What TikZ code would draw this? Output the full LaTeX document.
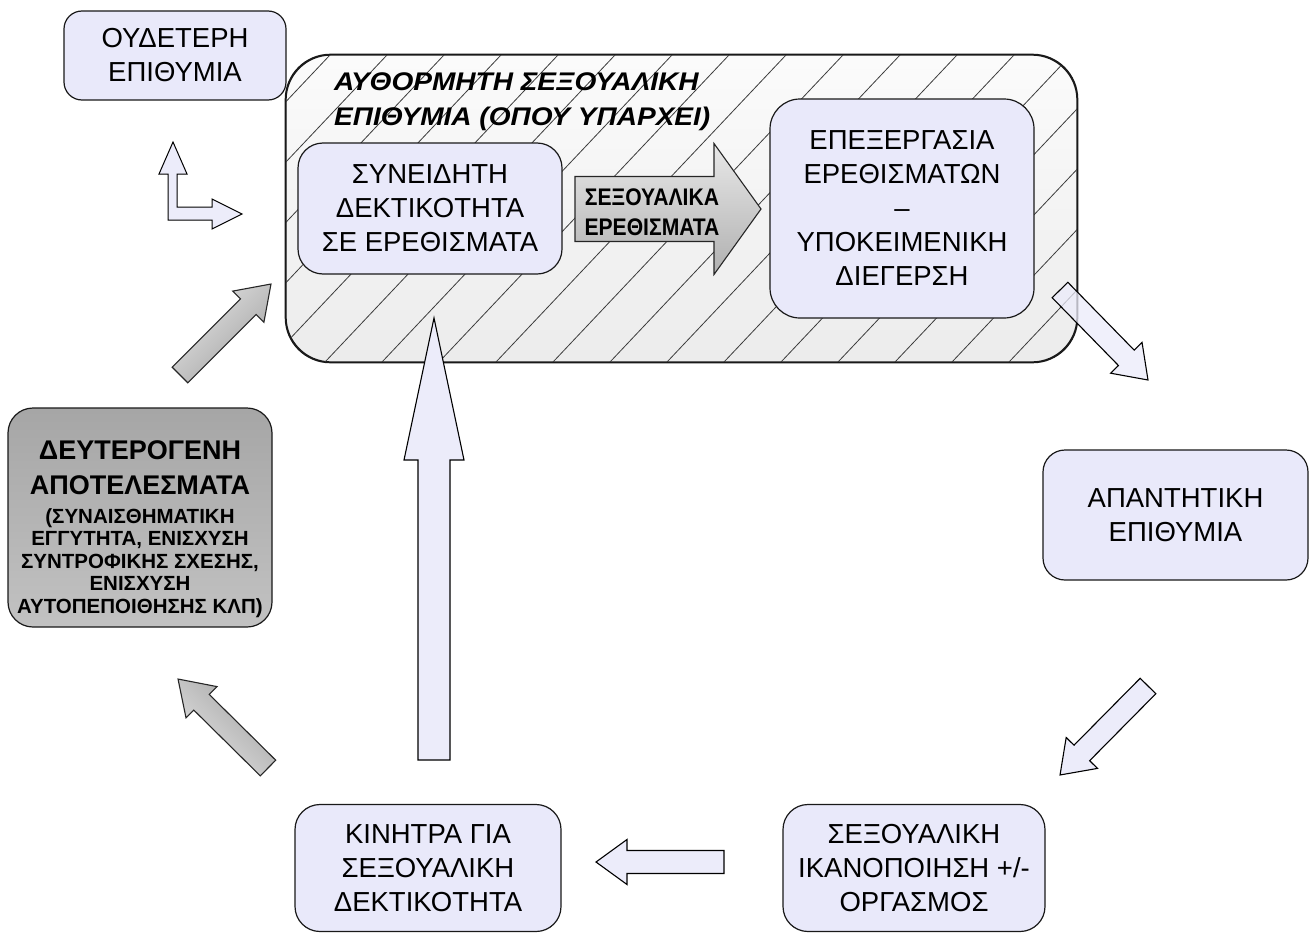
\documentclass[tikz,border=0pt]{standalone}
\usepackage{fontspec}
\setmainfont{Liberation Sans}
\newfontfamily\widefont[FakeStretch=1.1]{Liberation Sans}
\newfontfamily\narrowfont[FakeStretch=0.88]{Liberation Sans}
\usetikzlibrary{calc}
\definecolor{lav}{RGB}{233,233,250}
\definecolor{lavarrow}{RGB}{236,236,250}
\definecolor{hatchc}{RGB}{60,60,60}
\definecolor{edge}{RGB}{25,25,25}

% block arrow: #1 style, #2 from, #3 to, #4 shaft half width, #5 head half width, #6 head length
\newcommand\barrow[6]{%
  \path let \p1=($(#3)-(#2)$), \n1={atan2(\y1,\x1)}, \n2={veclen(\x1,\y1)} in
    \pgfextra{\xdef\barang{\n1}\xdef\barlen{\n2}};
  \begin{scope}[shift={(#2)}, rotate=\barang]
    \path[#1] (0,#4) -- ({\barlen-#6},#4) -- ({\barlen-#6},#5) -- (\barlen,0)
      -- ({\barlen-#6},-#5) -- ({\barlen-#6},-#4) -- (0,-#4) -- cycle;
  \end{scope}}

\tikzset{
  box/.style={draw=edge, line width=1.2pt, fill=lav, align=center,
    font=\fontsize{27.5}{34}\selectfont, inner sep=0pt},
  bigbox/.style={draw=edge, line width=1.3pt, rounded corners=45pt,
    top color=gray!3, bottom color=gray!15, inner sep=0pt},
  outarrow/.style={draw=black, line width=1.1pt, fill=lavarrow},
  grayarrow/.style={draw=black!85, line width=1.1pt, left color=gray!22, right color=gray!72},
  hatchline/.style={draw=hatchc, line width=0.8pt},
}

\begin{document}
\begin{tikzpicture}[x=1pt,y=-1pt]
\useasboundingbox (0,0) rectangle (1313,934);
\fill[white] (0,0) rectangle (1313,934);

% big hatched container
\node[bigbox, minimum width=791pt, minimum height=307pt] (big) at (681.5,208.5) {};
\begin{scope}
  \clip[rounded corners=45pt] (big.south west) rectangle (big.north east);
  \foreach \k in {-6,...,14} \draw[hatchline] ({325+57*\k},362) -- ++(290,-307);
\end{scope}
\draw[draw=edge, line width=1.3pt, rounded corners=45pt] (big.south west) rectangle (big.north east);

\node[anchor=north west, align=left, inner sep=0pt,
  font=\widefont\fontsize{25.5}{35}\selectfont\bfseries\itshape] (bigtitle) at (334,72)
  {ΑΥΘΟΡΜΗΤΗ ΣΕΞΟΥΑΛΙΚΗ\\ΕΠΙΘΥΜΙΑ (ΟΠΟΥ ΥΠΑΡΧΕΙ)};

% boxes
\node[box, rounded corners=18pt, minimum width=222pt, minimum height=89pt] (ouda) at (175,55.5)
  {ΟΥΔΕΤΕΡΗ\\ΕΠΙΘΥΜΙΑ};
\node[box, rounded corners=25pt, minimum width=264pt, minimum height=131pt] (syn) at (430,208.5)
  {ΣΥΝΕΙΔΗΤΗ\\ΔΕΚΤΙΚΟΤΗΤΑ\\ΣΕ ΕΡΕΘΙΣΜΑΤΑ};
\node[box, rounded corners=30pt, minimum width=264pt, minimum height=219pt] (epe) at (902,208.5)
  {ΕΠΕΞΕΡΓΑΣΙΑ\\ΕΡΕΘΙΣΜΑΤΩΝ\\–\\ΥΠΟΚΕΙΜΕΝΙΚΗ\\ΔΙΕΓΕΡΣΗ};
\node[box, rounded corners=22pt, minimum width=265pt, minimum height=130pt] (apa) at (1175.5,515)
  {ΑΠΑΝΤΗΤΙΚΗ\\ΕΠΙΘΥΜΙΑ};
\node[box, rounded corners=25pt, minimum width=262pt, minimum height=127pt] (sex) at (914,868)
  {ΣΕΞΟΥΑΛΙΚΗ\\ΙΚΑΝΟΠΟΙΗΣΗ +/-\\ΟΡΓΑΣΜΟΣ};
\node[box, rounded corners=25pt, minimum width=266pt, minimum height=127pt] (kin) at (428,868)
  {ΚΙΝΗΤΡΑ ΓΙΑ\\ΣΕΞΟΥΑΛΙΚΗ\\ΔΕΚΤΙΚΟΤΗΤΑ};
\node[draw=edge, line width=1.2pt, rounded corners=25pt, minimum width=264pt, minimum height=219pt,
  top color=gray!70, middle color=gray!22, bottom color=gray!48] (deu) at (140,517.5) {};
\node[align=center, inner sep=0pt, font=\fontsize{27}{35}\selectfont\bfseries] (deuA) at (140,467.5)
  {ΔΕΥΤΕΡΟΓΕΝΗ\\ΑΠΟΤΕΛΕΣΜΑΤΑ};
\node[align=center, inner sep=0pt, font=\fontsize{20.5}{22.5}\selectfont\bfseries] (deuB) at (140,563)
  {(ΣΥΝΑΙΣΘΗΜΑΤΙΚΗ\\ΕΓΓΥΤΗΤΑ, ΕΝΙΣΧΥΣΗ\\ΣΥΝΤΡΟΦΙΚΗΣ ΣΧΕΣΗΣ,\\ΕΝΙΣΧΥΣΗ\\ΑΥΤΟΠΕΠΟΙΘΗΣΗΣ ΚΛΠ)};

% arrow end points
\coordinate (gs) at (575,209);   \coordinate (ge) at (761,209);
\coordinate (a1s) at (180,375);  \coordinate (a1e) at (271,284);
\coordinate (a2s) at (268,768);  \coordinate (a2e) at (178,679);
\coordinate (a3s) at (1060,290); \coordinate (a3e) at (1148,380);
\coordinate (a4s) at (1148,686); \coordinate (a4e) at (1060,775);
\coordinate (a5s) at (724,862);  \coordinate (a5e) at (596,862);
\coordinate (a6s) at (434,760);  \coordinate (a6e) at (434,318);

% stimuli arrow between syn and epe
\barrow{draw=black!85, line width=1.1pt, top color=gray!18, bottom color=gray!62}{gs}{ge}{32.5}{65.5}{47}
\node[align=center, inner sep=0pt, font=\narrowfont\fontsize{24}{30}\selectfont\bfseries] (gtext) at (652,212)
  {ΣΕΞΟΥΑΛΙΚΑ\\ΕΡΕΘΙΣΜΑΤΑ};

% cycle arrows
\barrow{outarrow, fill opacity=0.75}{a3s}{a3e}{11}{22}{31}
\barrow{outarrow}{a4s}{a4e}{11}{22}{31}
\barrow{outarrow}{a5s}{a5e}{11.5}{22.5}{31}
\barrow{outarrow}{a6s}{a6e}{16}{30}{142}
\barrow{grayarrow, shading angle=\barang}{a1s}{a1e}{11}{22}{32}
\barrow{grayarrow, shading angle=\barang}{a2s}{a2e}{11}{22}{33}

% L-shaped double arrow
\draw[outarrow, line width=1pt] (168,220) -- (168,174) -- (159,174) -- (173,142) -- (187,174) -- (177,174)
  -- (177,207) -- (212,207) -- (212,199) -- (242,214) -- (212,229) -- (212,220) -- cycle;
\end{tikzpicture}
\end{document}
